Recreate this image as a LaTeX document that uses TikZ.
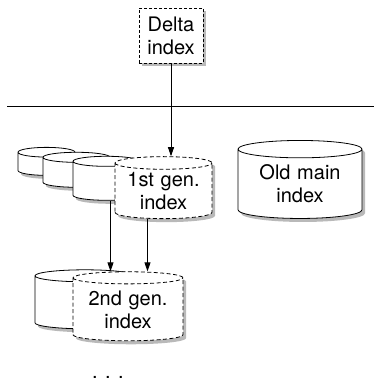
\documentclass[tikz,border=0pt]{standalone}
\usepackage{fontspec}
\newfontfamily\helv{TeX Gyre Heros}
\usetikzlibrary{shapes.geometric,shadows,arrows.meta}

\tikzset{
  store/.style={shape=cylinder,shape border rotate=90,draw=black,fill=white,
    line width=0.8pt,inner sep=0pt,align=center,
    drop shadow={shadow xshift=3pt,shadow yshift=-3.5pt,opacity=0.55}},
  fresh/.style={dash pattern=on 4pt off 2.5pt},
  arr/.style={-{Triangle[length=9pt,width=6pt]},line width=0.8pt}
}

\begin{document}
\begin{tikzpicture}[x=1pt,y=-1pt,font=\helv\fontsize{20}{23}\selectfont]
  \useasboundingbox (0,0) rectangle (374,382);

  \node[draw=black,fill=white,line width=0.8pt,dash pattern=on 3pt off 2pt,
        minimum width=64pt,minimum height=55pt,inner sep=0pt,align=center,
        drop shadow={shadow xshift=3pt,shadow yshift=-3.5pt,opacity=0.55}]
        (delta) at (171,35.5) {Delta\\index};

  \coordinate (cutl) at (7,106);
  \coordinate (cutr) at (374,106);
  \draw[line width=0.8pt] (cutl) -- (cutr);

  \node[store,text width=57pt,minimum width=57pt,minimum height=28pt,aspect=0.17] (gen1a) at (46.5,164) {};
  \node[store,text width=67pt,minimum width=67pt,minimum height=35pt,aspect=0.15] (gen1b) at (76.5,172.5) {};
  \node[store,text width=67pt,minimum width=67pt,minimum height=44pt,aspect=0.15] (gen1c) at (106.5,181) {};
  \node[store,fresh,text width=97pt,minimum width=97pt,minimum height=62pt,aspect=0.13] (gen1) at (163.5,191) {1st gen.\\index};

  \node[store,text width=124pt,minimum width=124pt,minimum height=78pt,aspect=0.14] (oldmain) at (300,184) {Old main\\index};

  \node[store,text width=100pt,minimum width=100pt,minimum height=59pt,aspect=0.12] (gen2a) at (85,302.5) {};
  \node[store,fresh,text width=110pt,minimum width=110pt,minimum height=69pt,aspect=0.11] (gen2) at (128,309.5) {2nd gen.\\index};

  \node (dots) at (108,377) {. . .};

  \draw[arr] (delta) -- (delta |- gen1.north);
  \draw[arr] ([xshift=4pt]gen1c.south) -- ([xshift=4pt]gen1c.south |- gen2.north);
  \draw[arr] ([xshift=-16pt]gen1.south) -- ([xshift=-16pt]gen1.south |- gen2.north);
\end{tikzpicture}
\end{document}
